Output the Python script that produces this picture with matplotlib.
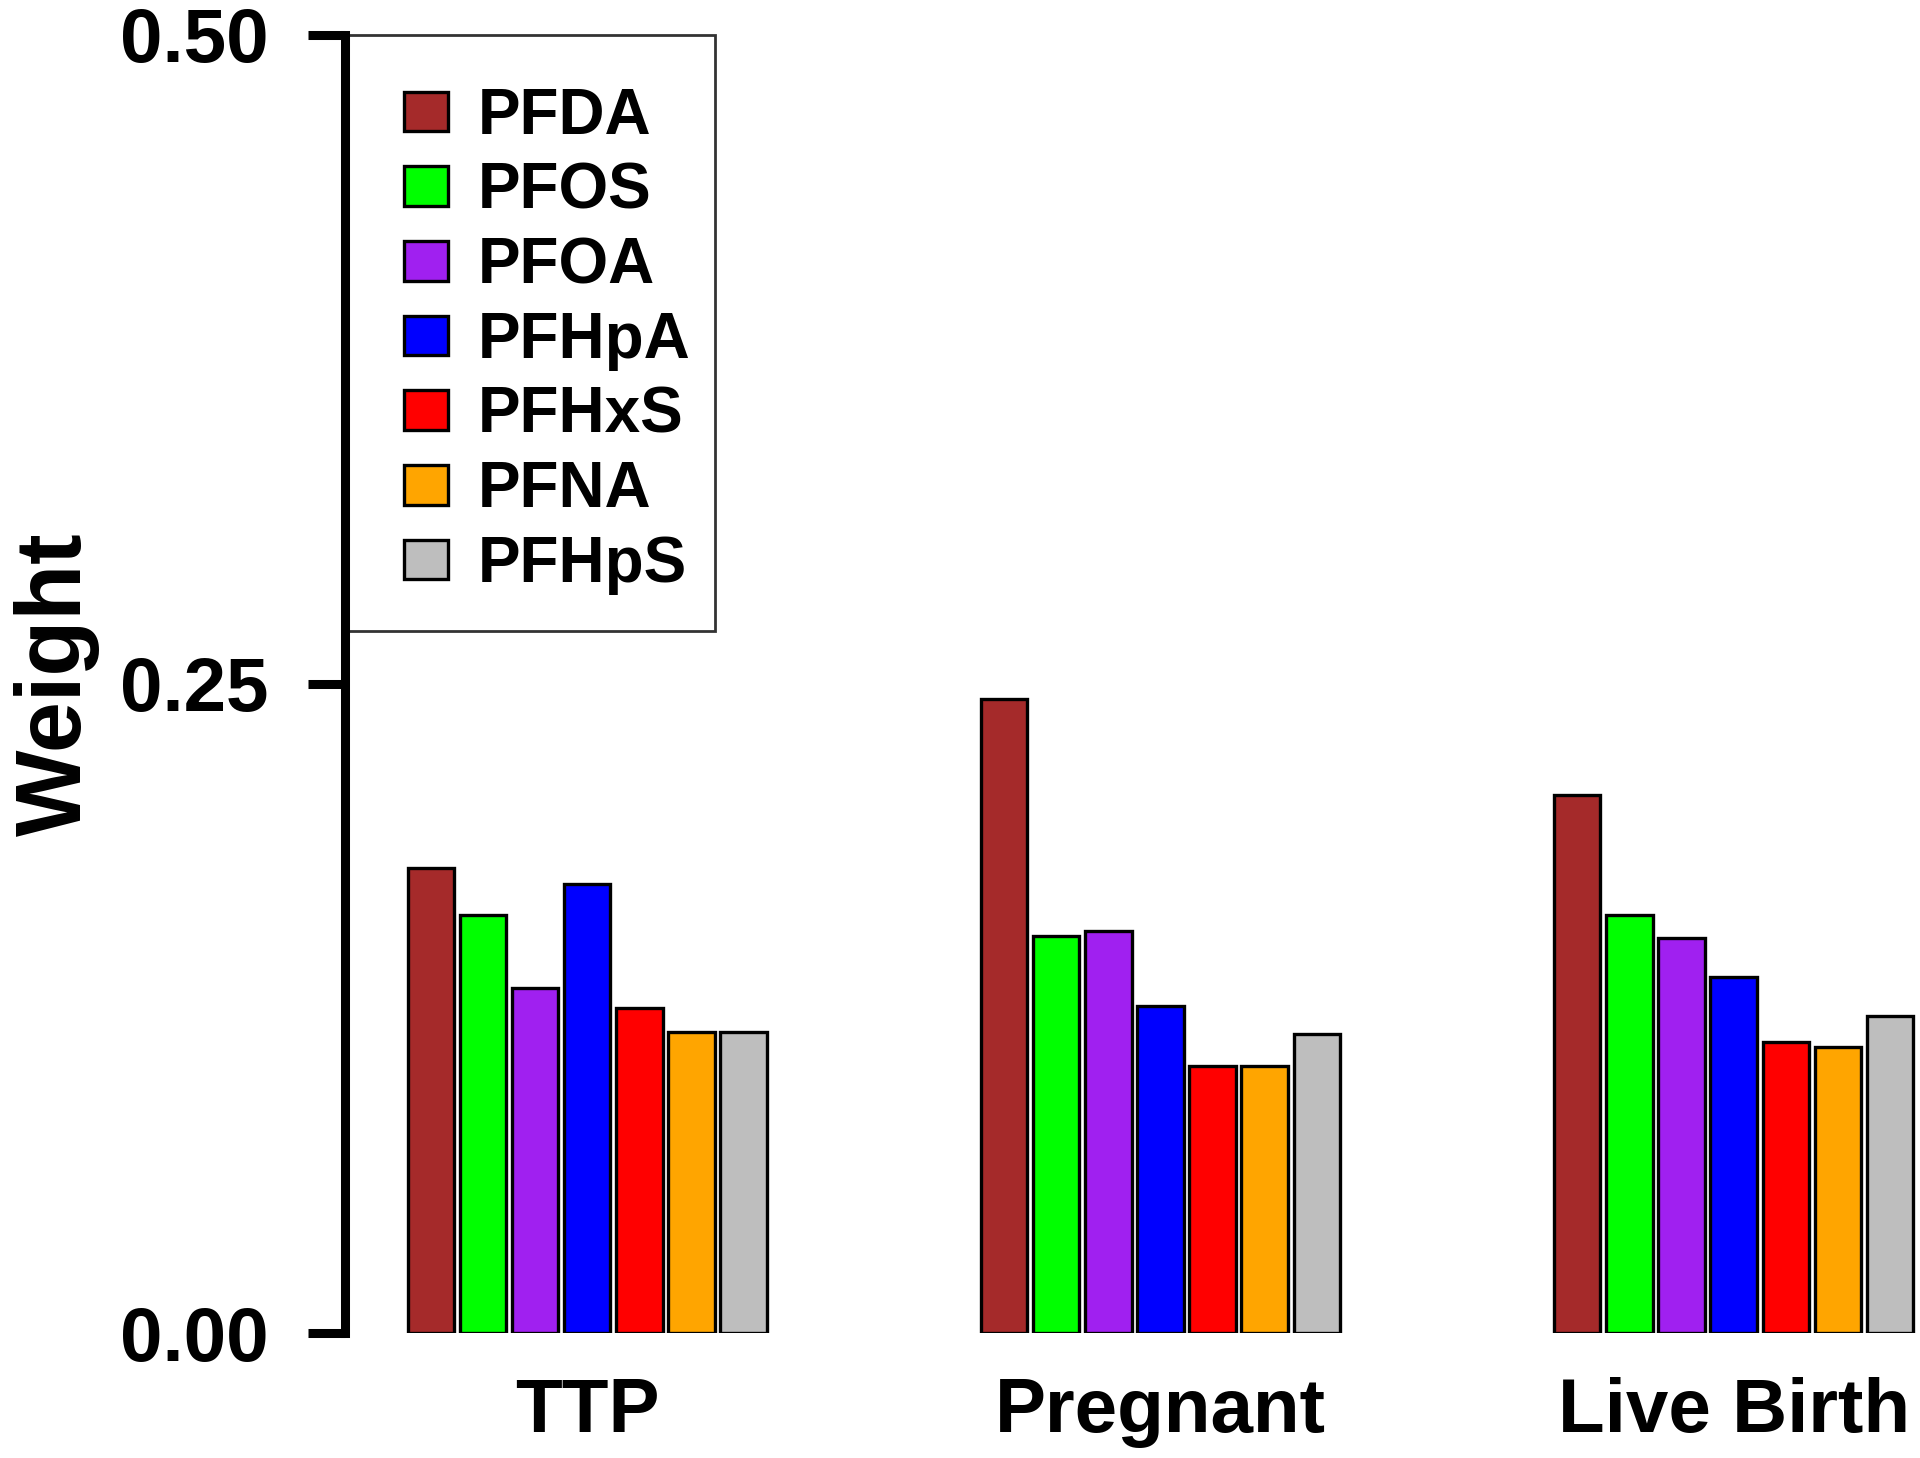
import matplotlib
matplotlib.use("Agg")
import matplotlib.pyplot as plt
from matplotlib.patches import Patch, Rectangle
import numpy as np

outcomes = ["TTP", "Pregnant", "Live Birth"]
chemicals = ["PFDA", "PFOS", "PFOA", "PFHpA", "PFHxS", "PFNA", "PFHpS"]
colors = ["#A52A2A", "#00FF00", "#A020F0", "#0000FF", "#FF0000", "#FFA500", "#BEBEBE"]

ttp = [0.179, 0.161, 0.133, 0.173, 0.125, 0.116, 0.116]
pregnant = [0.244, 0.153, 0.155, 0.126, 0.103, 0.103, 0.115]
live_birth = [0.207, 0.161, 0.152, 0.137, 0.112, 0.110, 0.122]
weights = [ttp, pregnant, live_birth]

plt.rcParams["font.family"] = ["Liberation Sans", "DejaVu Sans"]
plt.rcParams["font.weight"] = "bold"

fig = plt.figure(figsize=(19.2, 14.58), dpi=100)
ax = fig.add_axes([0.1797, 0.0857, 0.8193, 0.8906])

group_step = 11
for g, vals in enumerate(weights):
    x = g * group_step + np.arange(len(vals))
    ax.bar(x, vals, width=0.89, color=colors, edgecolor="black", linewidth=2.4)

ax.set_xlim(-1.65, 28.54)
ax.set_ylim(0, 0.5)
ax.set_yticks([0, 0.25, 0.5])
ax.set_yticklabels(["0.00", "0.25", "0.50"])
ax.set_xticks([g * group_step + 3 for g in range(len(outcomes))])
ax.set_xticklabels(outcomes)

for s in ["top", "right", "bottom"]:
    ax.spines[s].set_visible(False)
ax.spines["left"].set_linewidth(6.5)
ax.spines["left"].set_bounds(0, 0.5)
ax.spines["left"].set_capstyle("projecting")
ax.spines["left"].set_zorder(6)

ax.tick_params(axis="y", length=27, width=6.5, pad=28, labelsize=55)
ax.tick_params(axis="x", length=0, pad=32, labelsize=55)

ax.set_ylabel("Weight", fontsize=66, fontweight="bold")
ax.yaxis.set_label_coords(-0.156, 0.5)

# legend box (R style: box edge sits on the y axis line)
box = Rectangle((0, 0.541), 0.2352, 0.459, transform=ax.transAxes,
                facecolor="white", edgecolor="#333333", linewidth=2.0,
                zorder=4, clip_on=False)
ax.add_patch(box)

handles = [Patch(facecolor=c, edgecolor="black", linewidth=2.4) for c in colors]
leg = ax.legend(handles, chemicals, loc="upper left", bbox_to_anchor=(0.0375, 0.9596),
                borderaxespad=0, borderpad=0, fontsize=46, frameon=False,
                handlelength=0.69, handleheight=0.58, handletextpad=0.46,
                labelspacing=0.23)
leg.set_zorder(5)

fig.savefig("out.png", dpi=100, facecolor="white")
